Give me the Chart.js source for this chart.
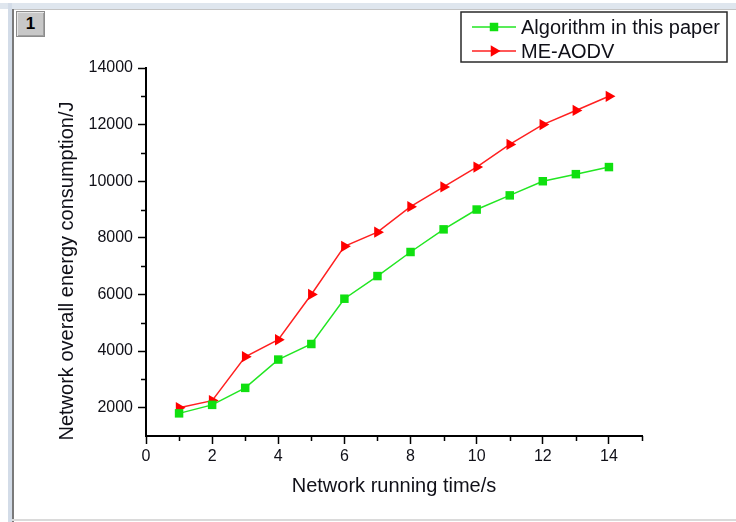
<!DOCTYPE html>
<html>
<head>
<meta charset="utf-8">
<script src="https://cdn.jsdelivr.net/npm/chart.js@4/dist/chart.umd.min.js"></script>
<style>
    html, body { margin: 0; padding: 0; background: #fff; }
    #page { position: relative; width: 736px; height: 522px; overflow: hidden; }
    #chart { position: absolute; left: 0; top: 0; }
    .strip-top { position: absolute; left: 0; top: 3px; width: 736px; height: 6px; background: #dfe6ee; }
    .line-top { position: absolute; left: 12px; top: 9px; width: 724px; height: 1px; background: #c4c4c4; }
    .strip-left { position: absolute; left: 8px; top: 3px; width: 4px; height: 519px; background: #d3dce8; }
    .line-left { position: absolute; left: 12px; top: 9px; width: 2px; height: 513px; background: #7a7a7a; }
    .line-bottom { position: absolute; left: 12px; top: 519px; width: 724px; height: 2px; background: #dadada; }
    .page-btn {
        position: absolute; left: 16px; top: 11px; width: 27px; height: 24px;
        background: #c8c8c8; border: 1px solid #8c8c8c;
        box-shadow: inset 1px 1px 0 #e8e8e8, inset -1px -1px 0 #a0a0a0;
        font: bold 17px 'Liberation Sans', Arial, sans-serif; color: #000;
        text-align: center; line-height: 24px;
    }
</style>
</head>
<body>
<div id="page">
    <div class="strip-top"></div>
    <div class="strip-left"></div>
    <div class="line-top"></div>
    <div class="line-left"></div>
    <div class="line-bottom"></div>
    <canvas id="chart" width="736" height="522"></canvas>
    <div class="page-btn">1</div>
</div>
<script>
// -------------------------------------------------------------------------
// Data
// -------------------------------------------------------------------------
const runningTime = [1, 2, 3, 4, 5, 6, 7, 8, 9, 10, 11, 12, 13, 14];
const algorithmThisPaper = [1800, 2100, 2700, 3700, 4250, 5850, 6650, 7500, 8300, 9000, 9500, 10000, 10250, 10500];
const meAodv = [2000, 2250, 3800, 4400, 6000, 7700, 8200, 9100, 9800, 10500, 11300, 12000, 12500, 13000];

const xMajorTicks = [0, 2, 4, 6, 8, 10, 12, 14];
const xMinorTicks = [1, 3, 5, 7, 9, 11, 13, 15];
const yMajorTicks = [2000, 4000, 6000, 8000, 10000, 12000, 14000];
const yMinorTicks = [3000, 5000, 7000, 9000, 11000, 13000];

const FONT = "'Liberation Sans', Arial, sans-serif";
const TEXT_COLOR = '#101018';
const Y_TITLE = 'Network overall energy consumption/J';

// -------------------------------------------------------------------------
// Minor ticks (drawn through the scales)
// -------------------------------------------------------------------------
const minorTicks = {
    id: 'minorTicks',
    afterDraw(chart) {
        const { ctx, scales: { x, y } } = chart;
        ctx.save();
        ctx.strokeStyle = '#000';
        ctx.lineWidth = 1.5;
        ctx.beginPath();
        xMinorTicks.forEach(v => {
            const px = Math.round(x.getPixelForValue(v)) + 0.5;
            ctx.moveTo(px, y.bottom);
            ctx.lineTo(px, y.bottom + 5);
        });
        yMinorTicks.forEach(v => {
            const py = Math.round(y.getPixelForValue(v)) + 0.5;
            ctx.moveTo(x.left, py);
            ctx.lineTo(x.left - 5, py);
        });
        ctx.stroke();
        ctx.restore();
    }
};

// -------------------------------------------------------------------------
// Y axis title (sits a little below the plot centre, as in the original)
// -------------------------------------------------------------------------
const yTitle = {
    id: 'yTitle',
    afterDraw(chart) {
        const { ctx, chartArea } = chart;
        const cy = (chartArea.top + chartArea.bottom) / 2 + 19;
        ctx.save();
        ctx.translate(67, cy);
        ctx.rotate(-Math.PI / 2);
        ctx.fillStyle = TEXT_COLOR;
        ctx.font = `20px ${FONT}`;
        ctx.textAlign = 'center';
        ctx.textBaseline = 'middle';
        ctx.fillText(Y_TITLE, 0, 0);
        ctx.restore();
    }
};

// -------------------------------------------------------------------------
// Boxed legend above the plot, right side
// -------------------------------------------------------------------------
const boxedLegend = {
    id: 'boxedLegend',
    afterDraw(chart) {
        const { ctx } = chart;
        const box = { x: 461, y: 12, w: 266, h: 50 };
        ctx.save();
        ctx.fillStyle = '#fff';
        ctx.fillRect(box.x, box.y, box.w, box.h);
        ctx.strokeStyle = '#2a2a2a';
        ctx.lineWidth = 1.5;
        ctx.strokeRect(box.x, box.y, box.w, box.h);

        chart.data.datasets.forEach((ds, i) => {
            const rowY = box.y + 15 + i * 24;
            ctx.strokeStyle = ds.borderColor;
            ctx.lineWidth = ds.borderWidth;
            ctx.beginPath();
            ctx.moveTo(472, rowY);
            ctx.lineTo(516, rowY);
            ctx.stroke();
            ctx.fillStyle = ds.pointBackgroundColor;
            ctx.strokeStyle = ds.pointBorderColor;
            Chart.helpers.drawPoint(ctx, {
                pointStyle: ds.pointStyle,
                rotation: ds.pointRotation || 0,
                radius: ds.pointRadius,
                borderWidth: 0
            }, 494, rowY);
            ctx.fillStyle = TEXT_COLOR;
            ctx.font = `20px ${FONT}`;
            ctx.textBaseline = 'middle';
            ctx.textAlign = 'left';
            ctx.fillText(ds.label, 521, rowY + 1);
        });
        ctx.restore();
    }
};

// -------------------------------------------------------------------------
// Chart
// -------------------------------------------------------------------------
const ctx = document.getElementById('chart');
new Chart(ctx, {
    type: 'line',
    data: {
        labels: runningTime,
        datasets: [
            {
                label: 'Algorithm in this paper',
                data: runningTime.map((t, i) => ({ x: t, y: algorithmThisPaper[i] })),
                borderColor: '#22e622',
                backgroundColor: '#10e010',
                pointBackgroundColor: '#10e010',
                pointBorderColor: '#10e010',
                borderWidth: 1.5,
                pointStyle: 'rect',
                pointRadius: 6,
                pointBorderWidth: 0,
                tension: 0
            },
            {
                label: 'ME-AODV',
                data: runningTime.map((t, i) => ({ x: t, y: meAodv[i] })),
                borderColor: '#ff2020',
                backgroundColor: '#ff0000',
                pointBackgroundColor: '#ff0000',
                pointBorderColor: '#ff0000',
                borderWidth: 1.5,
                pointStyle: 'triangle',
                pointRotation: 90,
                pointRadius: 6.5,
                pointBorderWidth: 0,
                tension: 0
            }
        ]
    },
    options: {
        responsive: false,
        animation: false,
        devicePixelRatio: 1,
        layout: { padding: { left: 0, top: 68, right: 94, bottom: 0 } },
        plugins: {
            legend: { display: false },
            tooltip: { enabled: false }
        },
        scales: {
            x: {
                type: 'linear',
                min: 0,
                max: 15,
                afterBuildTicks: (scale) => { scale.ticks = xMajorTicks.map(v => ({ value: v })); },
                afterFit: (scale) => { scale.height = 86; },
                border: { display: true, color: '#000', width: 2 },
                grid: { drawOnChartArea: false, drawTicks: true, tickLength: 8, tickColor: '#000', tickWidth: 1.5 },
                ticks: {
                    autoSkip: false, maxRotation: 0, padding: 3, color: TEXT_COLOR,
                    font: { family: FONT, size: 16 },
                    callback: (v) => String(v)
                },
                title: {
                    display: true,
                    text: 'Network running time/s',
                    color: TEXT_COLOR,
                    font: { family: FONT, size: 20 },
                    padding: { top: 0, bottom: 24 }
                }
            },
            y: {
                type: 'linear',
                min: 1000,
                max: 14000,
                afterBuildTicks: (scale) => { scale.ticks = yMajorTicks.map(v => ({ value: v })); },
                afterFit: (scale) => { scale.width = 146; },
                border: { display: true, color: '#000', width: 2 },
                grid: { drawOnChartArea: false, drawTicks: true, tickLength: 8, tickColor: '#000', tickWidth: 1.5 },
                ticks: {
                    padding: 5, color: TEXT_COLOR,
                    font: { family: FONT, size: 16 },
                    callback: (v) => String(v)
                },
                title: { display: false }
            }
        }
    },
    plugins: [minorTicks, yTitle, boxedLegend]
});
</script>
</body>
</html>
